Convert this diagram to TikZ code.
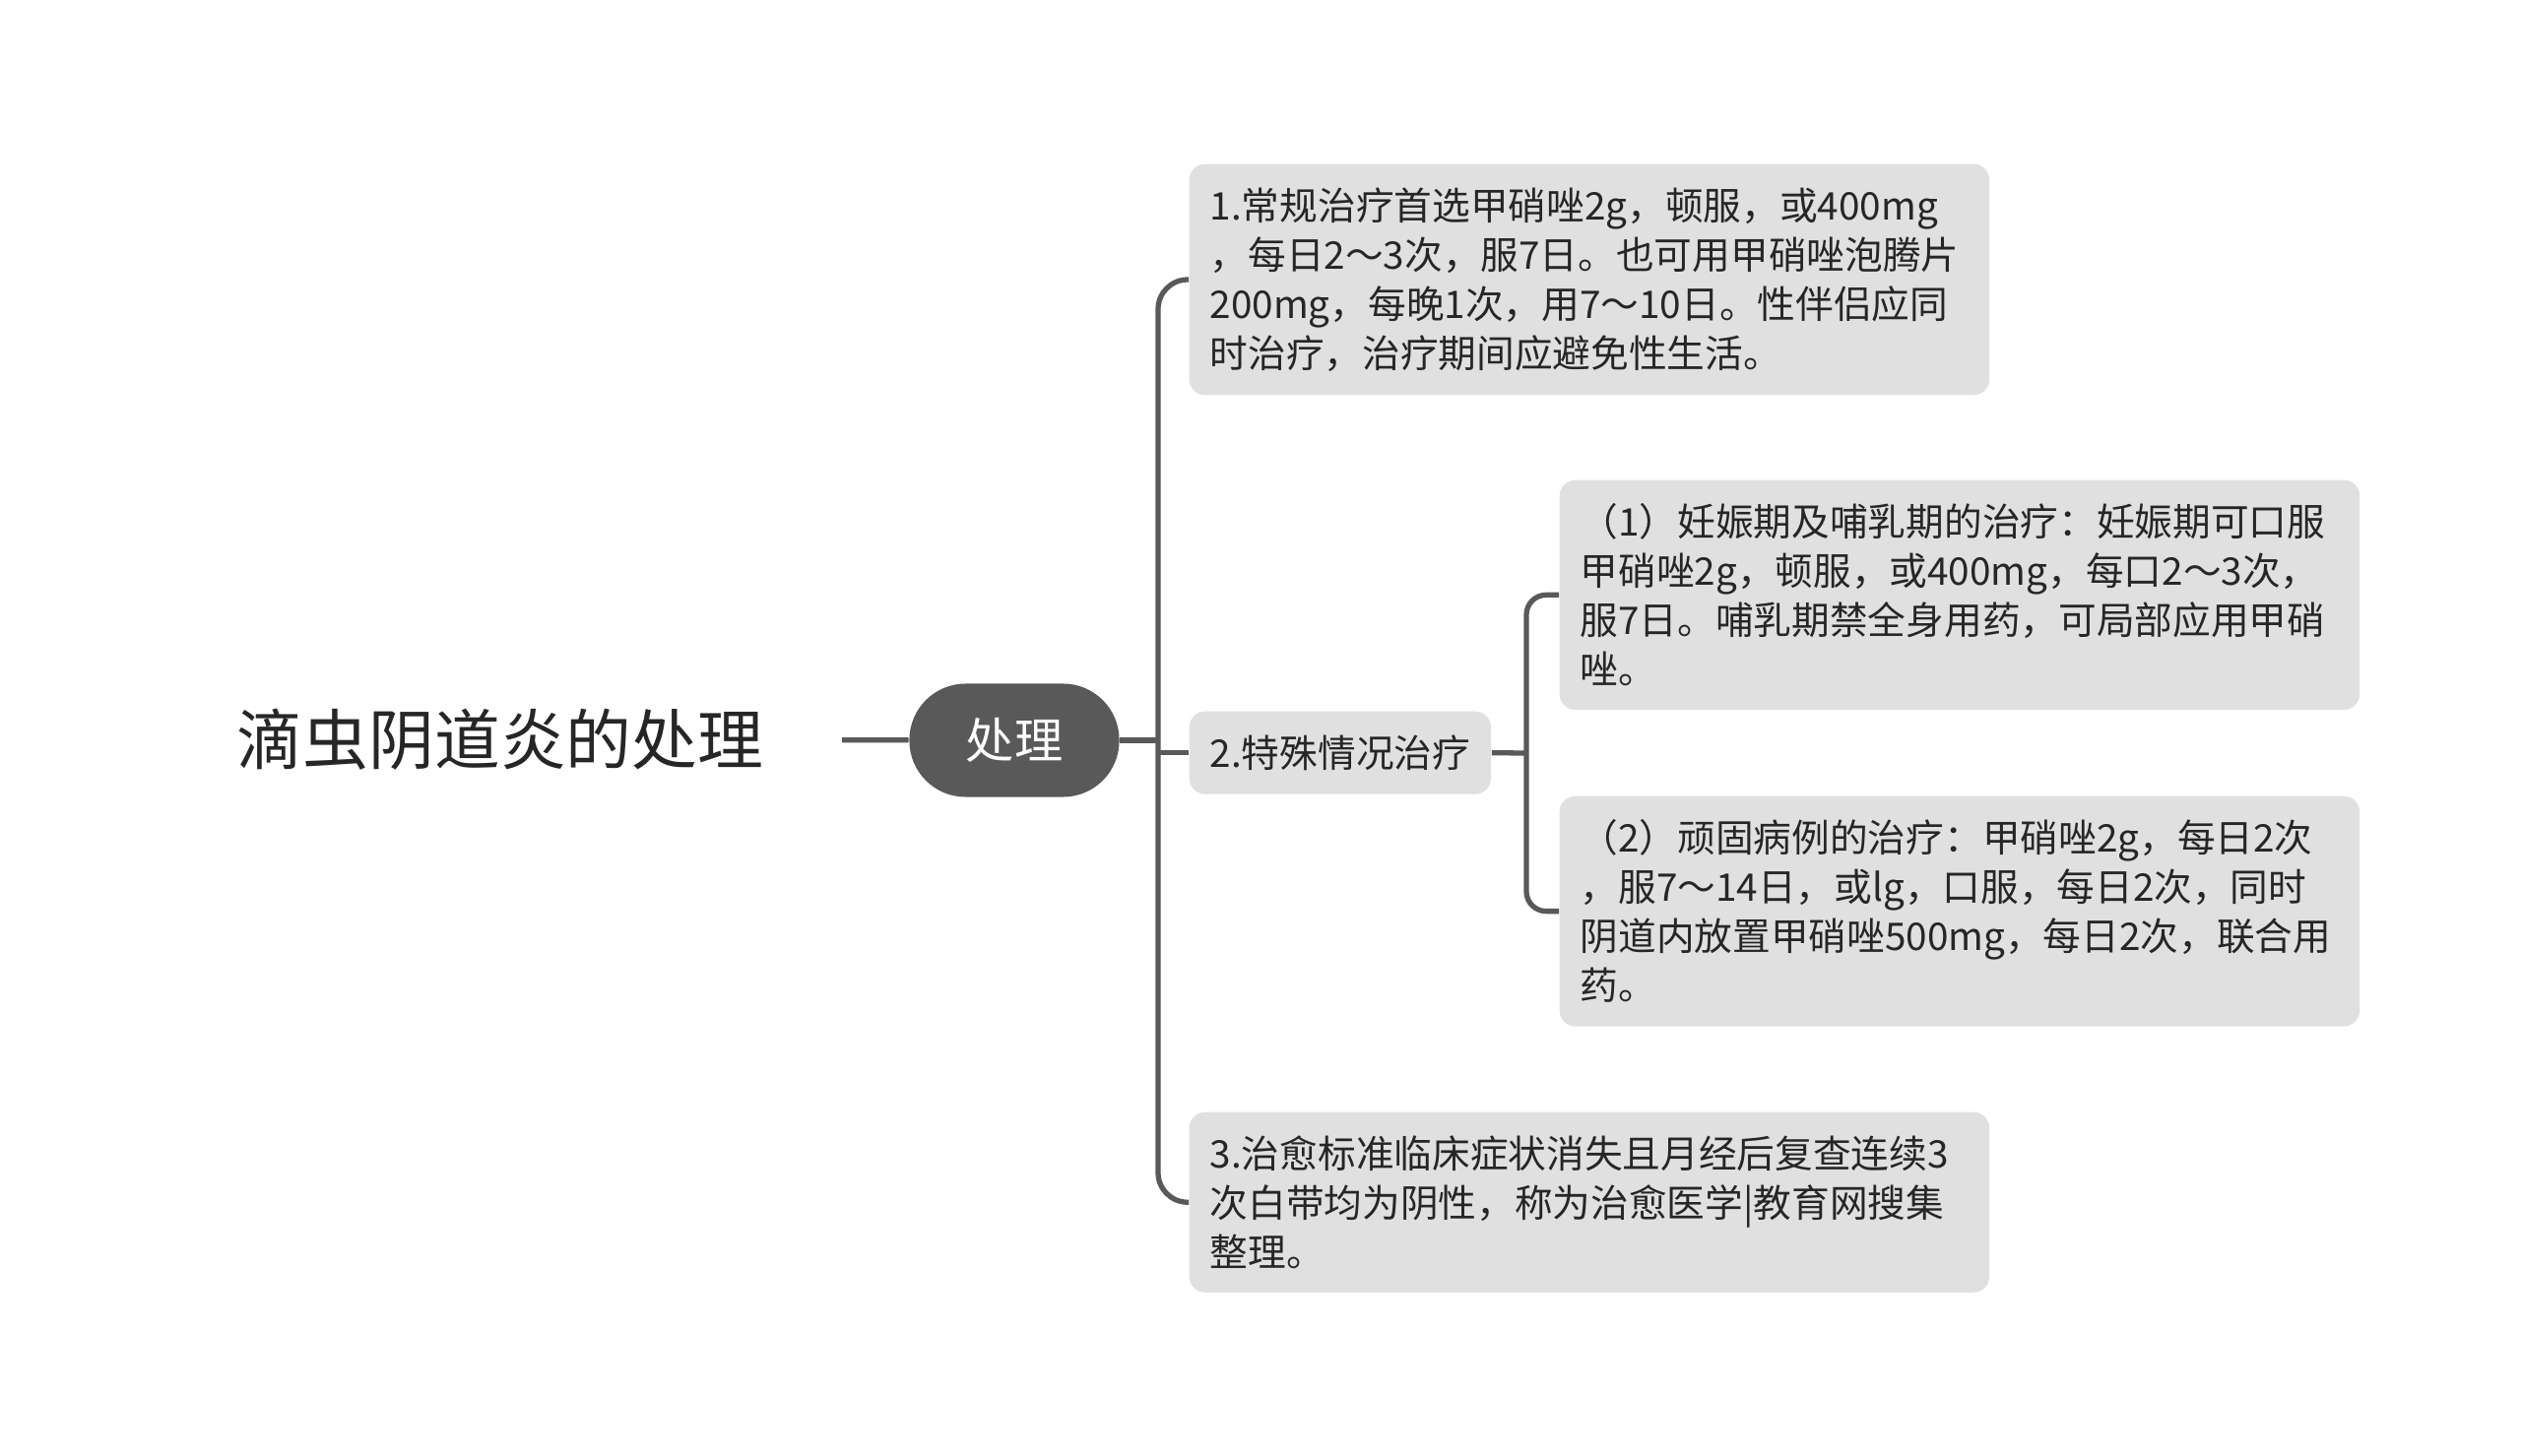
\documentclass[tikz,border=0pt]{standalone}
\usepackage{fontspec}
\setmainfont{Noto Sans CJK SC}
\definecolor{linea}{HTML}{595959}
\definecolor{foglia}{HTML}{E0E0E0}
\definecolor{testo}{HTML}{262626}

\begin{document}
\begin{tikzpicture}[x=0.01cm,y=-0.01cm,
    foglia/.style={shape=rectangle, fill=foglia, rounded corners=0.16cm, anchor=north west,
        text=testo, align=left, inner xsep=0.21cm, inner ysep=0.24cm,
        font=\fontsize{11pt}{14.2pt}\selectfont},
    lunga/.style={foglia, text width=7.70cm},
    arco/.style={draw=linea, line width=1.5pt}]
            \useasboundingbox (0,0) rectangle (2560,1479);

            \node[font=\fontsize{19pt}{23pt}\selectfont, text=testo, inner xsep=0.79cm] (tit) at (508,751) {滴虫阴道炎的处理};
            \node[fill=linea, text=white, rounded corners=0.57cm, minimum width=2.13cm, minimum height=1.15cm,
                font=\fontsize{14pt}{17pt}\selectfont] (pro) at (1030,752) {处理};

            \node[lunga] (c1) at (1207,166) {1.常规治疗首选甲硝唑2g，顿服，或400mg\\，每日2～3次，服7日。也可用甲硝唑泡腾片\\200mg，每晚1次，用7～10日。性伴侣应同\\时治疗，治疗期间应避免性生活。};
            \node[foglia] (c2) at (1207,722) {2.特殊情况治疗};
            \node[lunga] (c3) at (1207,1129) {3.治愈标准临床症状消失且月经后复查连续3\\次白带均为阴性，称为治愈医学|教育网搜集\\整理。};
            \node[lunga] (s1) at (1583,487) {（1）妊娠期及哺乳期的治疗：妊娠期可口服\\甲硝唑2g，顿服，或400mg，每口2～3次，\\服7日。哺乳期禁全身用药，可局部应用甲硝\\唑。};
            \node[lunga] (s2) at (1583,808) {（2）顽固病例的治疗：甲硝唑2g，每日2次\\，服7～14日，或lg，口服，每日2次，同时\\阴道内放置甲硝唑500mg，每日2次，联合用\\药。};

            \coordinate (f1) at (1176,752);
            \coordinate (f2) at (1550,765);

            %Linee

            \draw[arco] (tit) -- (pro);
            \draw[arco] (pro) -- (f1);
            \draw[arco, rounded corners=0.3cm] (f1) |- (c1.west);
            \draw[arco, rounded corners=0.3cm] (f1) |- (c3.west);
            \draw[arco] (f1 |- c2.west) -- (c2.west);
            \draw[arco] (c2.east) -- (f2);
            \draw[arco, rounded corners=0.2cm] (f2) |- (s1.west);
            \draw[arco, rounded corners=0.2cm] (f2) |- (s2.west);
        \end{tikzpicture}
\end{document}
